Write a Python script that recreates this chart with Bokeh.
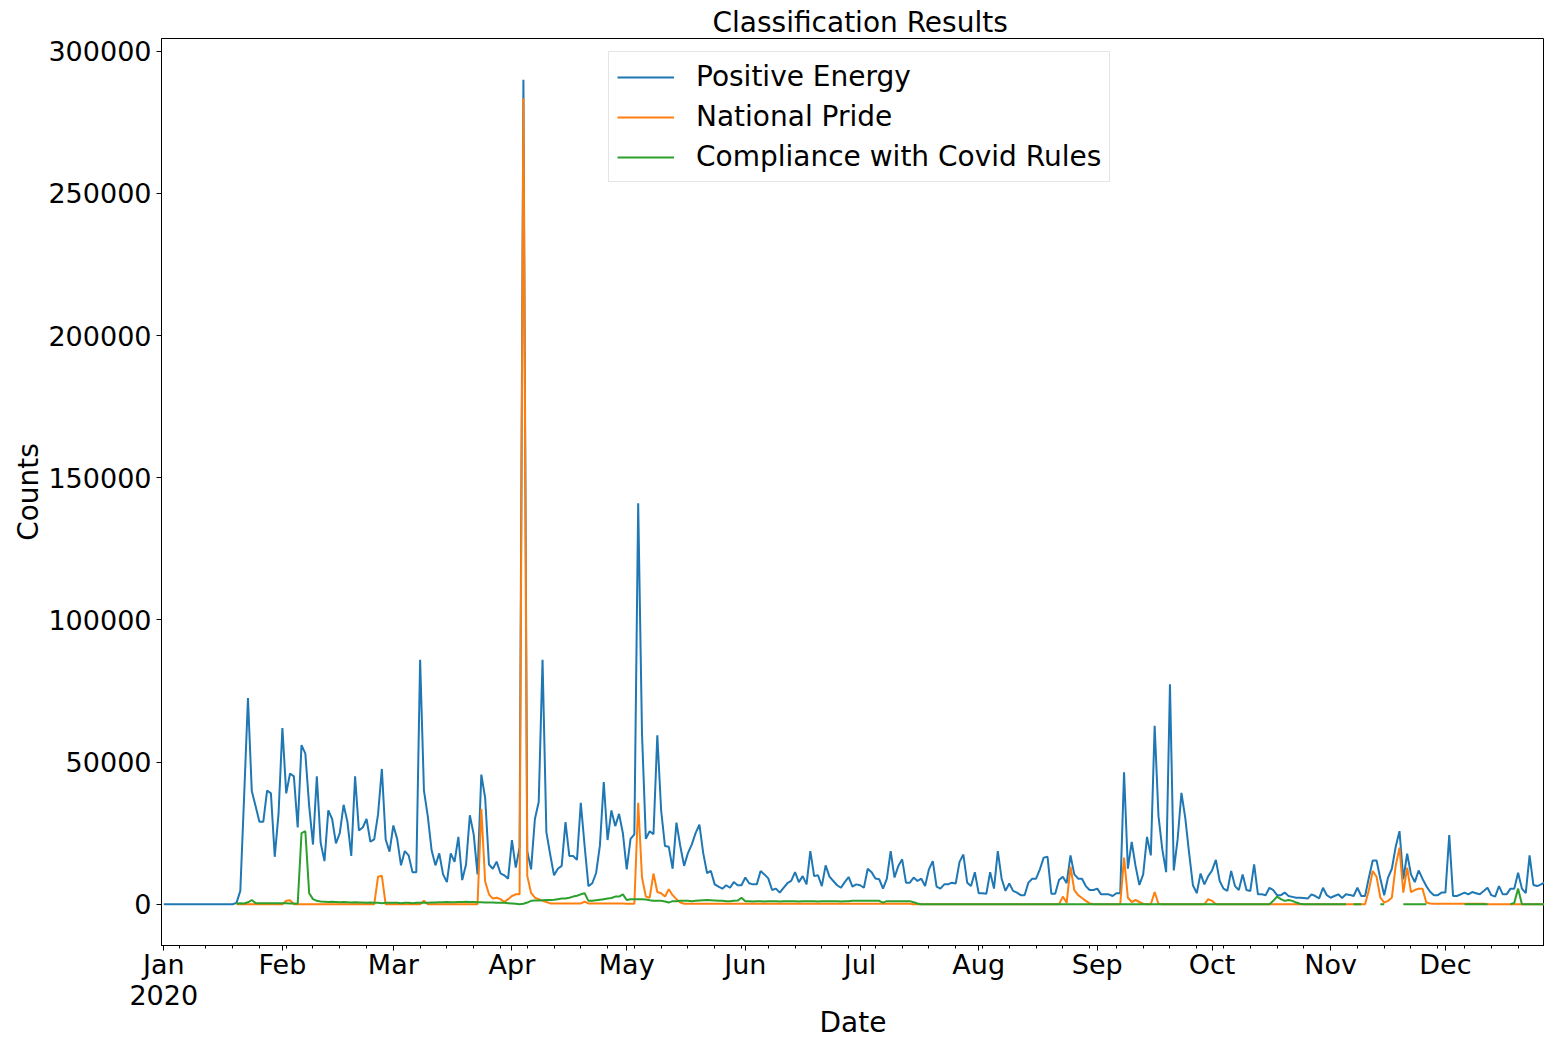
import numpy as np
import pandas as pd
from bokeh.plotting import figure
from bokeh.models import ColumnDataSource, Range1d, FixedTicker, NumeralTickFormatter
from bokeh.embed import file_html
from bokeh.resources import INLINE

nan = float("nan")

# ---------------- data (daily counts, 2020) ----------------
pe_jan = [0, 0, 0, 0, 0, 0, 0, 0, 0, 0, 0, 0, 0, 0, 0, 0, 0, 0, 0,
          500, 4700, 38000, 72500, 39800, 34500, 29000, 29000, 40000, 39000, 16700, 32000]
pe_feb = [62000, 39000, 46000, 45000, 27000, 56000, 53000, 34500, 21000, 45000,
          21600, 15200, 33000, 30000, 21400, 25000, 35000, 29000, 17000, 45000,
          26000, 27000, 30000, 22000, 22800, 31600, 47600, 22800, 18500]
pe_mar = [27700, 23000, 13700, 18700, 17200, 11300, 11300, 86000, 40000, 31000,
          19000, 13700, 17900, 10500, 7800, 17900, 14900, 23700, 8500, 14000,
          31300, 24600, 10500, 45600, 37400, 14000, 12500, 15000, 10900, 10200, 9000]
pe_apr = [22600, 12900, 20000, 290000, 18700, 12300, 30000, 36000, 86000, 25400,
          17500, 10200, 12500, 13500, 28900, 17000, 17000, 15600, 35700, 20500,
          6400, 7400, 11000, 20700, 43000, 22600, 33000, 27500, 31800, 25000]
pe_may = [12300, 23000, 24600, 141000, 60000, 23000, 25700, 24600, 59400, 33000,
          20500, 20200, 12500, 28700, 20500, 13500, 18000, 21000, 25000, 28000,
          18000, 11000, 11700, 7000, 6200, 5500, 6700, 5800, 7800, 6700, 6700]
pe_jun = [9400, 7400, 7000, 7000, 11700, 10500, 9100, 5000, 5500, 4100,
          5800, 7400, 8200, 11300, 7800, 9900, 7000, 18700, 9900, 10200,
          6400, 13700, 9700, 8200, 6700, 5800, 7800, 9600, 6200, 7000]
pe_jul = [6700, 5800, 12500, 11300, 9100, 8800, 5500, 9000, 18700, 9400,
          13500, 15800, 7600, 7600, 9400, 8200, 9000, 6400, 12300, 15200,
          6200, 5500, 7000, 7000, 7600, 7300, 14900, 17500, 7600, 6400, 11300]
pe_aug = [3900, 3900, 3700, 11300, 5500, 18700, 9000, 4700, 7300, 4700,
          4100, 3200, 3200, 7600, 9000, 9000, 12300, 16400, 16700, 3700,
          3700, 8500, 9700, 7400, 17200, 10500, 9000, 9000, 6400, 5000, 5000]
pe_sep = [5500, 3500, 3500, 3500, 2900, 3900, 3900, 46400, 12500, 21900,
          13500, 6800, 10500, 23700, 17200, 62800, 31000, 19300, 11300, 77400,
          11900, 22800, 39200, 30400, 18100, 6700, 3900, 10800, 7000, 9900]
pe_oct = [11900, 15600, 8200, 5500, 4700, 11700, 6400, 5000, 10500, 5000,
          4700, 14000, 3500, 3500, 3200, 5800, 5000, 3200, 3200, 4100,
          2900, 2600, 2300, 2300, 2200, 2000, 3500, 2900, 2100, 5800, 3200]
pe_nov = [2300, 2900, 3500, 2200, 3500, 3300, 2900, 5800, 2900, 2900,
          9400, 15400, 15400, 9000, 3200, 9400, 12500, 20200, 25700, 8800,
          17800, 10500, 7800, 11900, 9000, 6400, 4400, 3200, 3200, 4100]
pe_dec = [4100, 24300, 2900, 2900, 3500, 4100, 3500, 4300, 3900, 3500,
          4700, 5800, 3200, 2700, 6400, 3500, 3500, 5500, 5500, 11100,
          5500, 3900, 17200, 6800, 6400, 7000, 7800, 8200]

np_jan = [nan] * 19 + [0] * 12
np_feb = [0, 1200, 1400] + [0] * 22 + [9700, 10000, 0, 0]
np_mar = [0, 0, 0, 0, 0, 0, 0, 0, 1200, 0, 0, 0, 0, 0, 0, 0, 0, 0, 0, 0,
          0, 0, 0, 33600, 8000, 3500, 2000, 2300, 1800, 800, 1800]
np_apr = [2900, 3500, 3500, 283500, 10000, 4000, 2300, 1800, 1200, 800,
          300, 300, 300, 300, 300, 300, 300, 300, 300, 900,
          300, 300, 300, 300, 300, 300, 300, 300, 300, 300]
np_may = [200, 200, 200, 35700, 9400, 2700, 2300, 10800, 4300, 3900,
          2700, 5300, 3200, 1800, 600] + [200] * 16
np_jun = [200] * 30
np_jul = [200] * 14 + [0] * 17
np_aug = [0] * 22 + [2700, 500, 13200, 5000, 3200, 2200, 1200, 300, 0]
np_sep = [0] * 7 + [16400, 2300, 800, 1500, 800, 200, 0, 0, 4300, 200] + [0] * 12 + [1800]
np_oct = [1200] + [0] * 30
np_nov = [0] * 10 + [5000, 11700, 9700, 2300, 600, 1200, 2300, 13500, 19900, 4100,
                     12900, 4300, 5000, 5500, 5500, 600, 300] + [200] * 3
np_dec = [200] * 11 + [0] * 17

cc_jan = [nan] * 19 + [300, 400, 300, 700, 1500, 400, 400, 400, 400, 400, 400, 400]
cc_feb = [400, 400, 300, 300, 200, 25000, 25700, 3900, 1800, 1200,
          1000, 900, 800, 900, 800, 700, 800, 700, 600, 700,
          600, 600, 500, 600, 500, 500, 400, 500, 500]
cc_mar = [500, 500, 400, 500, 500, 400, 500, 500, 500, 500,
          600, 600, 700, 700, 800, 700, 700, 800, 800, 900,
          800, 800, 700, 700, 600, 600, 600, 500, 500, 500, 400]
cc_apr = [300, 200, 0, 200, 600, 1200, 1300, 1300, 1400, 1500,
          1500, 1600, 1800, 2000, 2000, 2300, 2700, 3000, 3500, 3900,
          1200, 1200, 1400, 1600, 1800, 2000, 2200, 2700, 2700, 3500]
cc_may = [1500, 1800, 1800, 1800, 1800, 1700, 1400, 1200, 1200, 1200,
          1000, 600, 1100, 1100, 1200, 1200, 1200, 1100, 1200, 1300,
          1400, 1500, 1400, 1300, 1200, 1200, 1100, 1100, 1200, 1300, 2300]
cc_jun = [1100, 1100, 1000, 1100, 1100, 1000, 1100, 1100, 1100, 1000,
          1100, 1100, 1100, 1100, 1000, 1100, 1100, 1100, 1100, 1000,
          1100, 1100, 1100, 1100, 1100, 1000, 1100, 1100, 1200, 1200]
cc_jul = [1200] * 6 + [600] + [1100] * 7 + [700, 300] + [0] * 15
cc_aug = [0] * 31
cc_sep = [0] * 30
cc_oct = [0] * 15 + [0, 1200, 2700, 1800, 1200, 1500, 1200, 600, 200] + [0] * 7
cc_nov = [0] * 5 + [nan] + [0] * 3 + [nan] * 4 + [0] * 2 + [nan] * 4 + [0] * 7 + [nan] * 4
cc_dec = [nan] * 5 + [0] * 7 + [nan] * 5 + [0, 500, 5500] + [0] * 8

positive_energy = (pe_jan + pe_feb + pe_mar + pe_apr + pe_may + pe_jun + pe_jul +
                   pe_aug + pe_sep + pe_oct + pe_nov + pe_dec)
national_pride = (np_jan + np_feb + np_mar + np_apr + np_may + np_jun + np_jul +
                  np_aug + np_sep + np_oct + np_nov + np_dec)
covid_rules = (cc_jan + cc_feb + cc_mar + cc_apr + cc_may + cc_jun + cc_jul +
               cc_aug + cc_sep + cc_oct + cc_nov + cc_dec)

month_labels = ["Jan\n2020", "Feb", "Mar", "Apr", "May", "Jun",
                "Jul", "Aug", "Sep", "Oct", "Nov", "Dec"]
y_ticks = [0, 50000, 100000, 150000, 200000, 250000, 300000]

# ---------------- build ----------------
dates = pd.date_range("2020-01-01", periods=len(positive_energy), freq="D")
src = ColumnDataSource(dict(
    date=dates,
    pe=np.array(positive_energy, dtype=float),
    npr=np.array(national_pride, dtype=float),
    cc=np.array(covid_rules, dtype=float),
))

epoch = pd.Timestamp("1970-01-01")
def ms(ts):
    return int((ts - epoch) / pd.Timedelta(milliseconds=1))

month_starts = pd.date_range("2020-01-01", periods=12, freq="MS")
month_ms = [ms(t) for t in month_starts]
sunday_ms = [ms(t) for t in pd.date_range("2020-01-05", "2020-12-31", freq="7D")]

x_start = pd.Timestamp("2020-01-01") - pd.Timedelta(hours=14.4)
x_end = x_start + pd.Timedelta(days=361.5)

FONT = "DejaVu Sans"
FS_TICK = "27px"
FS = "28px"

p = figure(width=1544, height=1042, x_axis_type="datetime",
           output_backend="svg", toolbar_location=None,
           x_range=Range1d(x_start.to_pydatetime(), x_end.to_pydatetime()),
           y_range=Range1d(-14500, 304500),
           min_border_left=161, min_border_right=0, min_border_top=38, min_border_bottom=97,
           title="Classification Results")

p.line("date", "pe", source=src, color="#1f77b4", line_width=2, legend_label="Positive Energy")
p.line("date", "npr", source=src, color="#ff7f0e", line_width=2, legend_label="National Pride")
p.line("date", "cc", source=src, color="#2ca02c", line_width=2, legend_label="Compliance with Covid Rules")

p.xgrid.visible = False
p.ygrid.visible = False
p.outline_line_color = "black"
p.outline_line_width = 1
p.background_fill_color = "white"
p.border_fill_color = "white"

p.title.text_font = FONT
p.title.text_font_size = FS
p.title.text_font_style = "normal"
p.title.text_color = "black"
p.title.align = "left"
p.title.offset = 551
p.title.standoff = 0

p.xaxis.ticker = FixedTicker(ticks=month_ms, minor_ticks=sunday_ms)
p.xaxis.major_label_overrides = {m: lab for m, lab in zip(month_ms, month_labels)}
p.yaxis.ticker = FixedTicker(ticks=y_ticks)
p.yaxis.formatter = NumeralTickFormatter(format="0")

p.xaxis.axis_label = "Date"
p.yaxis.axis_label = "Counts"
for ax in (p.xaxis, p.yaxis):
    ax.axis_line_color = "black"
    ax.major_tick_line_color = "black"
    ax.minor_tick_line_color = "black"
    ax.major_tick_out = 5
    ax.major_tick_in = 0
    ax.minor_tick_out = 3
    ax.minor_tick_in = 0
    ax.major_label_text_font = FONT
    ax.major_label_text_font_size = FS_TICK
    ax.major_label_text_color = "black"
    ax.axis_label_text_font = FONT
    ax.axis_label_text_font_size = FS
    ax.axis_label_text_font_style = "normal"
    ax.axis_label_text_color = "black"
p.xaxis.major_label_standoff = -2
p.xaxis.major_label_text_line_height = 1.0
p.xaxis.axis_label_standoff = -8
p.yaxis.major_label_standoff = 5
p.yaxis.axis_label_standoff = 0

lg = p.legend[0]
lg.location = (447, 763)
lg.label_text_font = FONT
lg.label_text_font_size = FS
lg.label_text_color = "black"
lg.glyph_width = 57
lg.glyph_height = 30
lg.label_height = 30
lg.spacing = 7
lg.padding = 8
lg.margin = 0
lg.label_standoff = 22
lg.border_line_color = "#cccccc"
lg.border_line_width = 1
lg.background_fill_alpha = 0.8

open("out.html", "w").write(file_html(p, INLINE))
